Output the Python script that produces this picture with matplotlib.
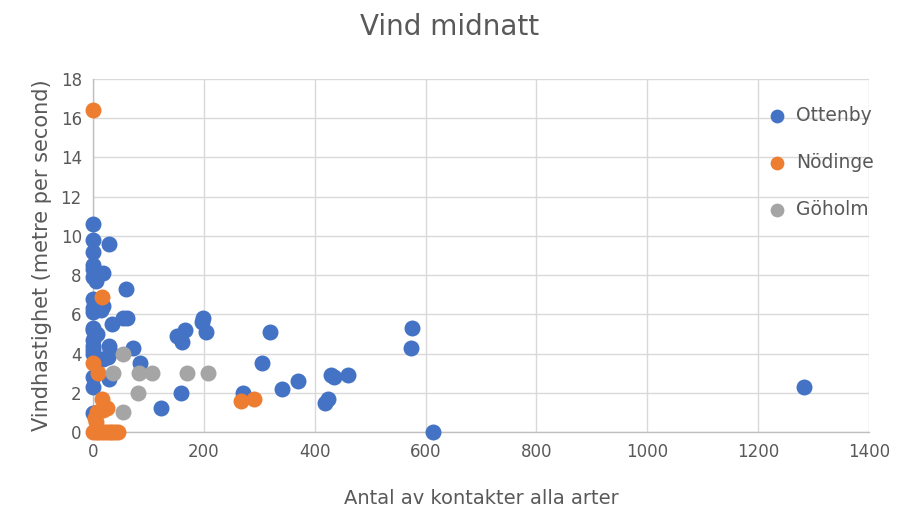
import matplotlib.pyplot as plt

# Ottenby
ottenby_x = [0, 0, 29, 0, 0, 0, 18, 0, 5, 59, 0, 0, 18, 0, 15, 55, 62, 34, 0, 0, 8, 0,
             29, 72, 0, 0, 0, 27, 18, 30, 85, 0, 29, 0, 0, 123, 152, 166, 160, 198, 196,
             204, 319, 305, 158, 270, 341, 370, 429, 435, 460, 424, 419, 575, 573, 613, 1283]
ottenby_y = [10.6, 9.8, 9.6, 9.2, 8.5, 8.3, 8.1, 7.9, 7.7, 7.3, 6.8, 6.3, 6.4, 6.1, 6.2, 5.8, 5.8,
             5.5, 5.3, 5.2, 5.0, 4.7, 4.4, 4.3, 4.4, 4.0, 4.2, 3.8, 3.7, 4.1, 3.5, 2.8, 2.7, 2.3,
             0.95, 1.2, 4.9, 5.2, 4.6, 5.8, 5.6, 5.1, 5.1, 3.5, 2.0, 2.0, 2.2, 2.6, 2.9, 2.8, 2.9,
             1.7, 1.5, 5.3, 4.3, 0.0, 2.3]

# Nödinge
nodinge_x = [0, 17, 0, 9, 16, 25, 18, 8, 3, 5, 0, 5, 10, 15, 20, 25, 30, 35, 40, 45, 267, 290]
nodinge_y = [16.4, 6.9, 3.5, 3.0, 1.7, 1.2, 1.1, 1.0, 0.7, 0.5, 0, 0, 0, 0, 0, 0, 0, 0, 0, 0, 1.6, 1.7]

# Göholm
goholm_x = [54, 36, 83, 106, 81, 54, 169, 207]
goholm_y = [4.0, 3.0, 3.0, 3.0, 2.0, 1.0, 3.0, 3.0]

text_color = '#595959'

fig = plt.figure(figsize=(8.99, 5.15), dpi=100)
ax = fig.add_axes([0.1034, 0.1612, 0.8632, 0.6854])

ax.scatter(ottenby_x, ottenby_y, s=110, color='#4472C4', label='Ottenby', clip_on=False, zorder=3)
ax.scatter(nodinge_x, nodinge_y, s=110, color='#ED7D31', label='Nödinge', clip_on=False, zorder=4)
ax.scatter(goholm_x, goholm_y, s=110, color='#A5A5A5', label='Göholm', clip_on=False, zorder=5)

ax.set_xlim(0, 1400)
ax.set_ylim(0, 18)
ax.set_xticks(range(0, 1401, 200))
ax.set_yticks(range(0, 19, 2))
ax.grid(True, color='#D9D9D9', linewidth=1)
ax.set_axisbelow(True)
for side in ['top', 'right']:
    ax.spines[side].set_visible(False)
for side in ['left', 'bottom']:
    ax.spines[side].set_color('#BFBFBF')
    ax.spines[side].set_linewidth(1)
ax.tick_params(length=0, labelsize=12, labelcolor=text_color, pad=8)

ax.set_xlabel('Antal av kontakter alla arter', fontsize=14, color=text_color, labelpad=20)
ax.set_ylabel('Vindhastighet (metre per second)', fontsize=15, color=text_color, labelpad=6)
fig.suptitle('Vind midnatt', fontsize=20, color=text_color, y=0.975)

leg = ax.legend(loc='upper left', bbox_to_anchor=(0.848, 0.945), frameon=False, fontsize=13.5,
                labelspacing=1.5, handletextpad=0.0, markerscale=0.85, borderaxespad=0)
for t in leg.get_texts():
    t.set_color(text_color)

plt.savefig('out.png', dpi=100)
plt.close()
